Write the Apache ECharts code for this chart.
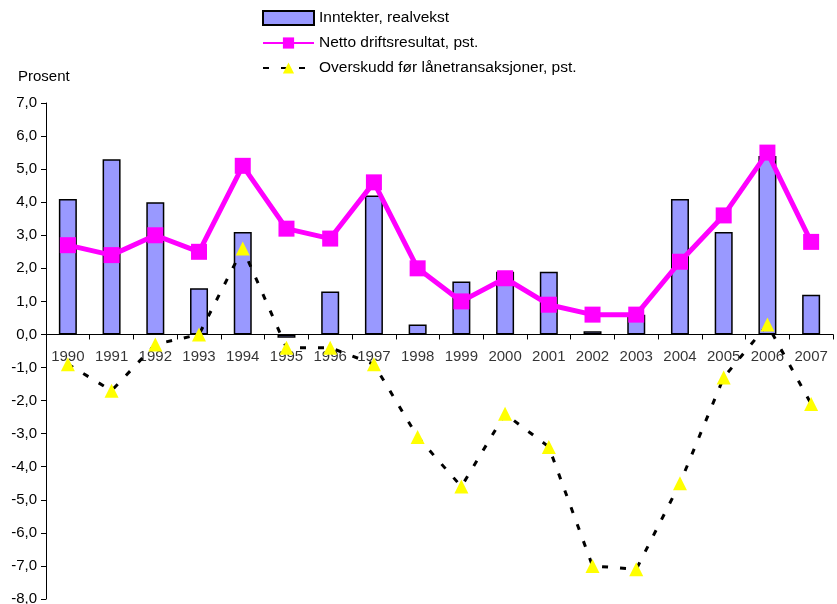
<!DOCTYPE html>
<html>
<head>
<meta charset="utf-8">
<script src="https://cdn.jsdelivr.net/npm/echarts@6/dist/echarts.min.js"></script>
<style>html,body{margin:0;padding:0;background:#fff}#c{width:837px;height:604px}</style>
</head>
<body>
<div id="c"></div>
<script>
const years = ['1990','1991','1992','1993','1994','1995','1996','1997','1998','1999','2000','2001','2002','2003','2004','2005','2006','2007'];
const inntekter = [4.1, 5.3, 4.0, 1.4, 3.1, -0.1, 1.3, 4.2, 0.3, 1.6, 1.9, 1.9, 0.1, 0.6, 4.1, 3.1, 5.4, 1.2];
const netto = [2.7, 2.4, 3.0, 2.5, 5.1, 3.2, 2.9, 4.6, 2.0, 1.0, 1.7, 0.9, 0.6, 0.6, 2.2, 3.6, 5.5, 2.8];
const overskudd = [-0.9, -1.7, -0.3, 0.0, 2.6, -0.4, -0.4, -0.9, -3.1, -4.6, -2.4, -3.4, -7.0, -7.1, -4.5, -1.3, 0.3, -2.1];
const yMin = -8, yMax = 7, yStep = 1;

const chart = echarts.init(document.getElementById('c'));
const font = 'Liberation Sans, Arial, sans-serif';
chart.setOption({
  animation: false,
  textStyle: { fontFamily: font },
  grid: { left: 46, right: 4, top: 103, bottom: 5, containLabel: false, outerBoundsMode: 'none' },
  legend: {
    orient: 'vertical', left: 262, top: 10, itemGap: 9, padding: 0,
    itemWidth: 51, itemHeight: 14,
    textStyle: { fontSize: 15.5, color: '#000', fontFamily: font },
    data: [
      { name: 'Inntekter, realvekst', icon: 'rect' },
      { name: 'Netto driftsresultat, pst.' },
      { name: 'Overskudd før lånetransaksjoner, pst.' }
    ]
  },
  graphic: [{ type: 'text', left: 18, top: 69, style: { text: 'Prosent', fontSize: 15, fill: '#000', fontFamily: font } }],
  xAxis: {
    type: 'category', data: years, boundaryGap: true,
    axisLine: { onZero: true, lineStyle: { color: '#000', width: 1 } },
    axisTick: { show: true, inside: false, length: 5, lineStyle: { color: '#000' } },
    axisLabel: { show: false },
    splitLine: { show: false }
  },
  yAxis: {
    type: 'value', min: yMin, max: yMax, interval: yStep,
    axisLine: { show: true, lineStyle: { color: '#000', width: 1 } },
    axisTick: { show: true, length: 5, lineStyle: { color: '#000' } },
    axisLabel: { fontSize: 15, color: '#000', margin: 9, fontFamily: font,
      formatter: v => v.toFixed(1).replace('.', ',') },
    splitLine: { show: false }
  },
  series: [
    {
      name: 'Inntekter, realvekst', type: 'bar', data: inntekter, barWidth: 18,
      itemStyle: { color: '#9999ff', borderColor: '#000', borderWidth: 1.5 },
      z: 1
    },
    {
      name: 'yearLabels', type: 'scatter', data: years.map(y => [y, 0]),
      symbolSize: 0, silent: true, z: 2,
      label: { show: true, position: 'bottom', distance: 15, formatter: p => p.value[0],
        fontSize: 15, color: '#000', fontFamily: font }
    },
    {
      name: 'Overskudd før lånetransaksjoner, pst.', type: 'line', data: overskudd,
      symbol: 'triangle', symbolSize: 14,
      itemStyle: { color: '#ffff00', borderWidth: 0 },
      lineStyle: { color: '#000', width: 3, type: [6, 12] },
      z: 3
    },
    {
      name: 'Netto driftsresultat, pst.', type: 'line', data: netto,
      symbol: 'rect', symbolSize: 16,
      itemStyle: { color: '#ff00ff', borderWidth: 0 },
      lineStyle: { color: '#ff00ff', width: 5 },
      z: 4
    }
  ]
});
</script>
</body>
</html>
